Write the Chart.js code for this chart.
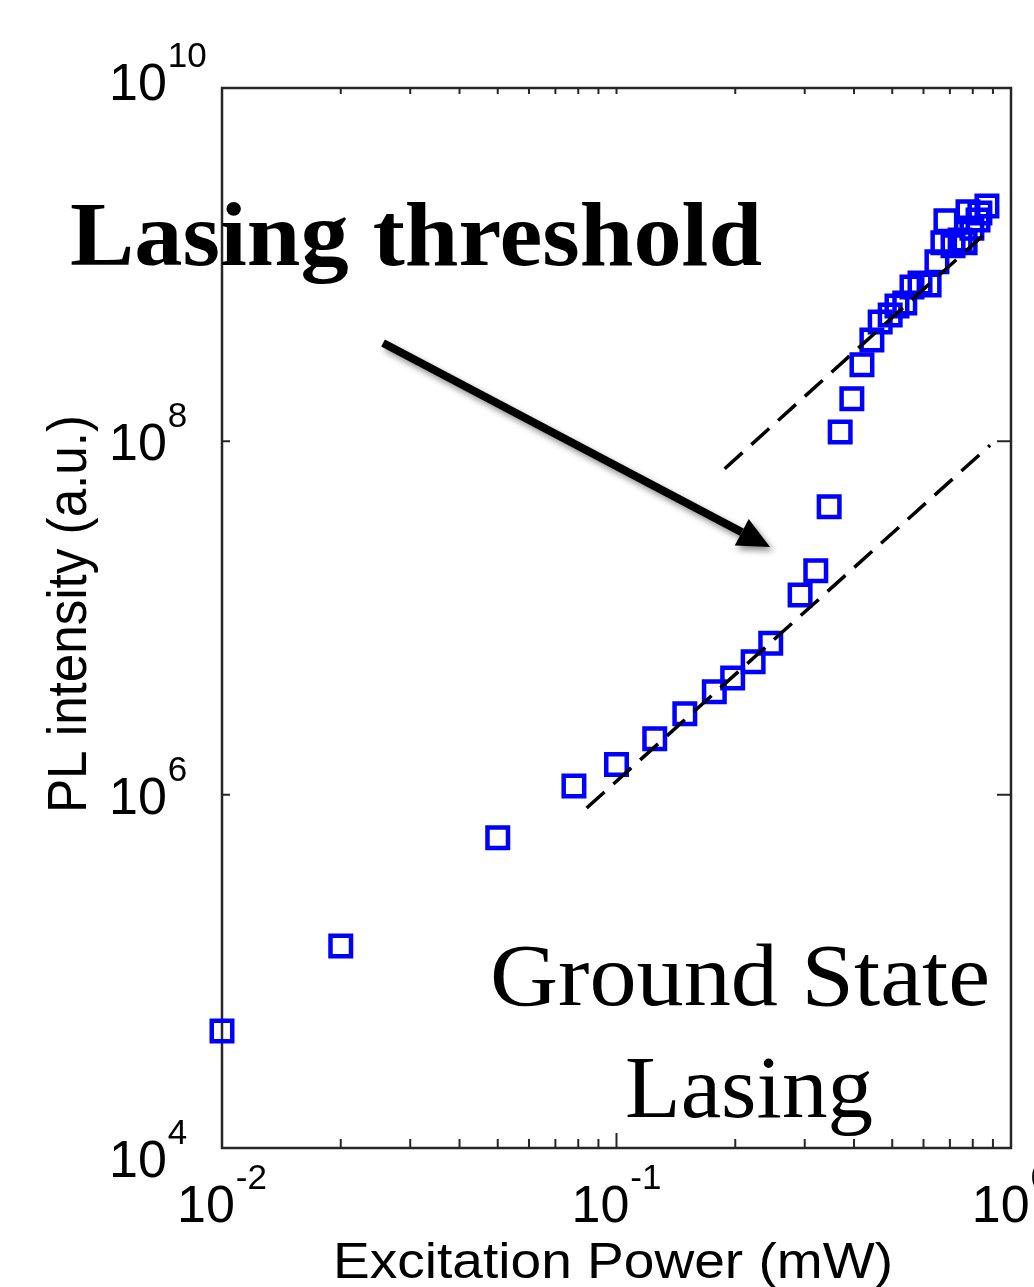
<!DOCTYPE html>
<html>
<head>
<meta charset="utf-8">
<script src="https://cdn.jsdelivr.net/npm/chart.js@4.4.1/dist/chart.umd.min.js"></script>
<style>
html, body { margin: 0; padding: 0; background: #fff; }
#wrap { width: 1034px; height: 1287px; }
</style>
</head>
<body>
<div id="wrap"><canvas id="plChart"></canvas></div>
<script>
// measured PL intensity vs excitation power
const power = [0.01, 0.02, 0.05, 0.078, 0.1, 0.125, 0.149, 0.177, 0.197, 0.222, 0.246,
  0.292, 0.32, 0.346, 0.369, 0.395, 0.419, 0.444, 0.466, 0.494, 0.514, 0.538, 0.561,
  0.588, 0.62, 0.649, 0.672, 0.684, 0.713, 0.743, 0.765, 0.778, 0.796, 0.825, 0.834, 0.869];
const intensity = [4.6e4, 1.39e5, 5.7e5, 1.12e6, 1.48e6, 2.07e6, 2.87e6, 3.82e6, 4.58e6, 5.65e6, 7.2e6,
  1.35e7, 1.85e7, 4.26e7, 1.13e8, 1.74e8, 2.71e8, 3.75e8, 4.74e8, 5.19e8, 5.84e8, 6.07e8, 7.48e8,
  7.88e8, 7.67e8, 1.04e9, 1.33e9, 1.77e9, 1.28e9, 1.38e9, 1.33e9, 1.99e9, 1.61e9, 1.79e9, 1.96e9, 2.15e9];

// dashed guide lines (end points)
const fitLowX = [0.084, 0.885];
const fitLowY = [8.4e5, 9.5e7];
const fitHighX = [0.188, 0.869];
const fitHighY = [7.0e7, 1.53e9];

// arrow pointing at the threshold (data coords)
const arrowFrom = [0.0256, 3.6e8];
const arrowTo = [0.245, 2.52e7];

// tick labels (powers of ten)
const xTickExp = [-2, -1, 0];
const yTickExp = [4, 6, 8, 10];
const yLabelNudge = {10: -7, 4: 10};

const toPts = (xs, ys) => xs.map((v, i) => ({x: v, y: ys[i]}));

// draw text squeezed/stretched to a measured width
function fitText(ctx, text, font, x, y, w, sy) {
  ctx.save();
  ctx.font = font;
  ctx.textAlign = 'left';
  ctx.textBaseline = 'alphabetic';
  const m = ctx.measureText(text).width;
  ctx.translate(x, y);
  ctx.scale(w / m, sy || 1);
  ctx.fillText(text, 0, 0);
  ctx.restore();
}

const BASE_FONT = '52px "Liberation Sans", Arial, sans-serif';
const EXP_FONT = '35px "Liberation Sans", Arial, sans-serif';

function drawPow(ctx, exp, left, baseY) {
  ctx.font = BASE_FONT;
  ctx.fillText('10', left, baseY);
  const wb = ctx.measureText('10').width;
  ctx.font = EXP_FONT;
  ctx.fillText(String(exp), left + wb + 1, baseY - 33);
}
function powWidth(ctx, exp) {
  ctx.font = BASE_FONT;
  const wb = ctx.measureText('10').width;
  ctx.font = EXP_FONT;
  return wb + 1 + ctx.measureText(String(exp)).width;
}

const framePlugin = {
  id: 'frame',
  beforeDatasetsDraw(chart) {
    const {ctx, chartArea: a, scales: {x, y}} = chart;
    ctx.save();
    ctx.strokeStyle = '#262626';
    ctx.lineWidth = 2.5;
    ctx.strokeRect(a.left, a.top, a.right - a.left, a.bottom - a.top);
    ctx.lineWidth = 2;
    ctx.beginPath();
    for (let e = -2; e <= 0; e++) {
      for (let k = 1; k <= 9; k++) {
        const v = k * Math.pow(10, e);
        if (v > 1.0001) break;
        const px = x.getPixelForValue(v);
        const major = k === 1;
        ctx.moveTo(px, a.bottom);
        ctx.lineTo(px, a.bottom - (major ? 15 : 9));
        ctx.moveTo(px, a.top);
        ctx.lineTo(px, a.top + 6);
      }
    }
    yTickExp.forEach(e => {
      const py = y.getPixelForValue(Math.pow(10, e));
      ctx.moveTo(a.left, py);
      ctx.lineTo(a.left + 8, py);
      ctx.moveTo(a.right, py);
      ctx.lineTo(a.right - 14, py);
    });
    ctx.stroke();

    // tick labels
    ctx.fillStyle = '#000';
    ctx.textAlign = 'left';
    ctx.textBaseline = 'alphabetic';
    xTickExp.forEach(e => {
      const px = x.getPixelForValue(Math.pow(10, e));
      const w = powWidth(ctx, e);
      drawPow(ctx, e, px - w / 2, a.bottom + 74);
    });
    yTickExp.forEach(e => {
      const py = y.getPixelForValue(Math.pow(10, e));
      drawPow(ctx, e, 109, py + 19 + (yLabelNudge[e] || 0));
    });
    ctx.restore();
  },
  afterDraw(chart) {
    const {ctx, scales: {x, y}} = chart;
    ctx.save();
    ctx.fillStyle = '#000';

    // axis titles
    fitText(ctx, 'Excitation Power (mW)', '50px "Liberation Sans", Arial, sans-serif', 333, 1278, 560);
    ctx.save();
    ctx.translate(86, 813);
    ctx.rotate(-Math.PI / 2);
    fitText(ctx, 'PL intensity (a.u.)', '50px "Liberation Sans", Arial, sans-serif', 0, 0, 398, 1.1);
    ctx.restore();

    // annotations
    fitText(ctx, 'Lasing threshold', 'bold 92px "Liberation Serif", "DejaVu Serif", serif', 70, 265, 692);
    fitText(ctx, 'Ground State', '88px "Liberation Serif", "DejaVu Serif", serif', 490, 1005, 500);
    fitText(ctx, 'Lasing', '88px "Liberation Serif", "DejaVu Serif", serif', 625, 1117, 248);

    // arrow
    const x0 = x.getPixelForValue(arrowFrom[0]), y0 = y.getPixelForValue(arrowFrom[1]);
    const x1 = x.getPixelForValue(arrowTo[0]), y1 = y.getPixelForValue(arrowTo[1]);
    const ang = Math.atan2(y1 - y0, x1 - x0);
    const headL = 32, headW = 15;
    const bx = x1 - headL * Math.cos(ang), by = y1 - headL * Math.sin(ang);
    ctx.shadowColor = 'rgba(0,0,0,0.45)';
    ctx.shadowBlur = 6;
    ctx.shadowOffsetX = 3;
    ctx.shadowOffsetY = 4;
    ctx.strokeStyle = '#000';
    ctx.lineWidth = 8;
    ctx.beginPath();
    ctx.moveTo(x0, y0);
    ctx.lineTo(bx, by);
    ctx.stroke();
    ctx.beginPath();
    ctx.moveTo(x1, y1);
    ctx.lineTo(bx + headW * Math.sin(ang), by - headW * Math.cos(ang));
    ctx.lineTo(bx - headW * Math.sin(ang), by + headW * Math.cos(ang));
    ctx.closePath();
    ctx.fill();
    ctx.restore();
  }
};

const config = {
  type: 'scatter',
  data: {
    datasets: [
      {
        label: 'PL',
        data: toPts(power, intensity),
        pointStyle: 'rect',
        pointRadius: 14.5,
        pointHoverRadius: 14.5,
        borderWidth: 4.5,
        borderColor: '#0000ff',
        backgroundColor: 'rgba(0,0,0,0)',
        clip: false,
        order: 2
      },
      {
        label: 'fit low',
        data: toPts(fitLowX, fitLowY),
        showLine: true,
        borderColor: '#000',
        borderWidth: 3.5,
        borderDash: [24, 12],
        pointRadius: 0,
        order: 1
      },
      {
        label: 'fit high',
        data: toPts(fitHighX, fitHighY),
        showLine: true,
        borderColor: '#000',
        borderWidth: 3.5,
        borderDash: [24, 12],
        pointRadius: 0,
        order: 1
      }
    ]
  },
  options: {
    responsive: true,
    maintainAspectRatio: false,
    animation: false,
    layout: { padding: { left: 0, right: 23, top: 88, bottom: 0 } },
    plugins: { legend: { display: false }, tooltip: { enabled: false } },
    scales: {
      x: {
        type: 'logarithmic',
        min: 0.01,
        max: 1,
        grid: { display: false },
        border: { display: false },
        ticks: { display: false },
        afterFit(s) { s.height = 139; }
      },
      y: {
        type: 'logarithmic',
        min: 1e4,
        max: 1e10,
        grid: { display: false },
        border: { display: false },
        ticks: { display: false },
        afterFit(s) { s.width = 222; }
      }
    }
  },
  plugins: [framePlugin]
};

const plChart = new Chart(document.getElementById('plChart'), config);
</script>
</body>
</html>
